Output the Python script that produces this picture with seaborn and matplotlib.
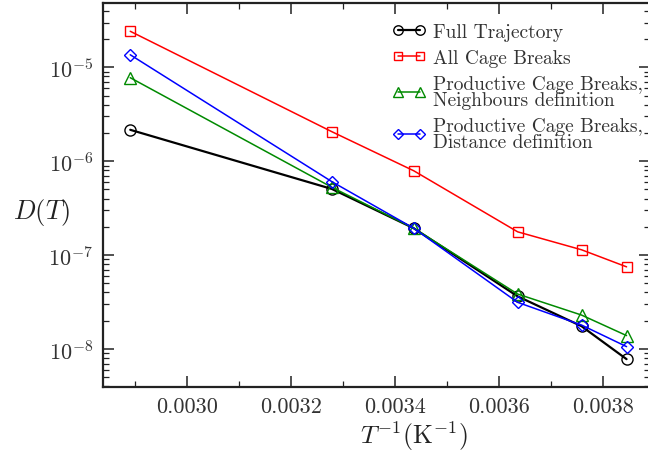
import matplotlib
matplotlib.use("Agg")
import matplotlib.pyplot as plt
import numpy as np
import pandas as pd
import seaborn as sns
from matplotlib.ticker import MultipleLocator, FormatStrFormatter, NullFormatter, LogLocator

# Temperatures of the simulations (K); plotted against 1/T
temperature_K = [346, 305, 291, 275, 266, 260]

# Diffusion coefficients D(T) for each estimate
d_full_trajectory = [2.16e-6, 5.06e-7, 1.93e-7, 3.64e-8, 1.75e-8, 7.8e-9]
d_all_cage_breaks = [2.42e-5, 2.06e-6, 7.9e-7, 1.77e-7, 1.14e-7, 7.5e-8]
d_prod_neighbours = [7.75e-6, 5.27e-7, 1.93e-7, 3.85e-8, 2.30e-8, 1.39e-8]
d_prod_distance = [1.36e-5, 6.05e-7, 1.93e-7, 3.14e-8, 1.80e-8, 1.06e-8]

series_labels = [
    "Full Trajectory",
    "All Cage Breaks",
    "Productive Cage Breaks,\nNeighbours definition",
    "Productive Cage Breaks,\nDistance definition",
]

sns.set_style("ticks")
plt.rcParams.update({
    "font.family": "serif",
    "font.serif": ["cmr10"],
    "mathtext.fontset": "cm",
    "axes.formatter.use_mathtext": True,
    "axes.unicode_minus": False,
})

inv_T = np.array([1.0 / t for t in temperature_K])

fig = plt.figure(figsize=(6.48, 4.52), dpi=100)
ax = fig.add_axes([103 / 648, 1 - 388 / 452, (650 - 103) / 648, (388 - 4) / 452])

styles = [
    (d_full_trajectory, "black", "o", 8.0, 1.6),
    (d_all_cage_breaks, "#ff0000", "s", 7.0, 1.1),
    (d_prod_neighbours, "#008a00", "^", 8.0, 1.1),
    (d_prod_distance, "#0000ff", "D", 6.0, 1.1),
]

for (values, color, marker, msize, lw), label in zip(styles, series_labels):
    df = pd.DataFrame({"invT": inv_T, "D": values})
    sns.lineplot(
        data=df, x="invT", y="D", ax=ax, color=color, linewidth=lw,
        marker=marker, markersize=msize, markerfacecolor="none",
        markeredgecolor=color, markeredgewidth=1.0, label=label,
        errorbar=None,
    )

ax.set_yscale("log")
ax.set_xlim(0.0028377, 0.0038913)
ax.set_ylim(3.94e-9, 4.84e-5)

ax.xaxis.set_major_locator(MultipleLocator(0.0002))
ax.xaxis.set_minor_locator(MultipleLocator(0.0001))
ax.xaxis.set_major_formatter(FormatStrFormatter("%.4f"))
ax.yaxis.set_major_locator(LogLocator(base=10, numticks=20))
ax.yaxis.set_minor_locator(LogLocator(base=10, subs=np.arange(2, 10), numticks=20))
ax.yaxis.set_minor_formatter(NullFormatter())

ax.tick_params(which="both", direction="in", top=True, right=True,
               colors="#222222", labelcolor="#333333")
ax.tick_params(which="major", length=8, width=1.1, labelsize=16, pad=7)
ax.tick_params(which="minor", length=4, width=0.9)
for sp in ax.spines.values():
    sp.set_linewidth(1.6)
    sp.set_color("#222222")

ax.set_xlabel(r"$T^{-1}(\mathrm{K}^{-1})$", fontsize=18.5, color="#222222",
              ha="center", va="center")
ax.xaxis.set_label_coords(0.5686, -0.127)
ax.set_ylabel(r"$D(T)$", fontsize=19, rotation=0, color="#222222",
              ha="center", va="center")
ax.yaxis.set_label_coords(-0.113, 0.458)

leg = ax.legend(loc="upper left", bbox_to_anchor=(0.5288, 0.948), frameon=False,
                fontsize=14.0, handlelength=1.75, handletextpad=0.35,
                numpoints=2, labelspacing=0.40, borderpad=0, borderaxespad=0,
                markerscale=0.85)
for t in leg.get_texts():
    t.set_linespacing(0.9)
    t.set_color("#333333")

fig.savefig("out.png", dpi=100)
